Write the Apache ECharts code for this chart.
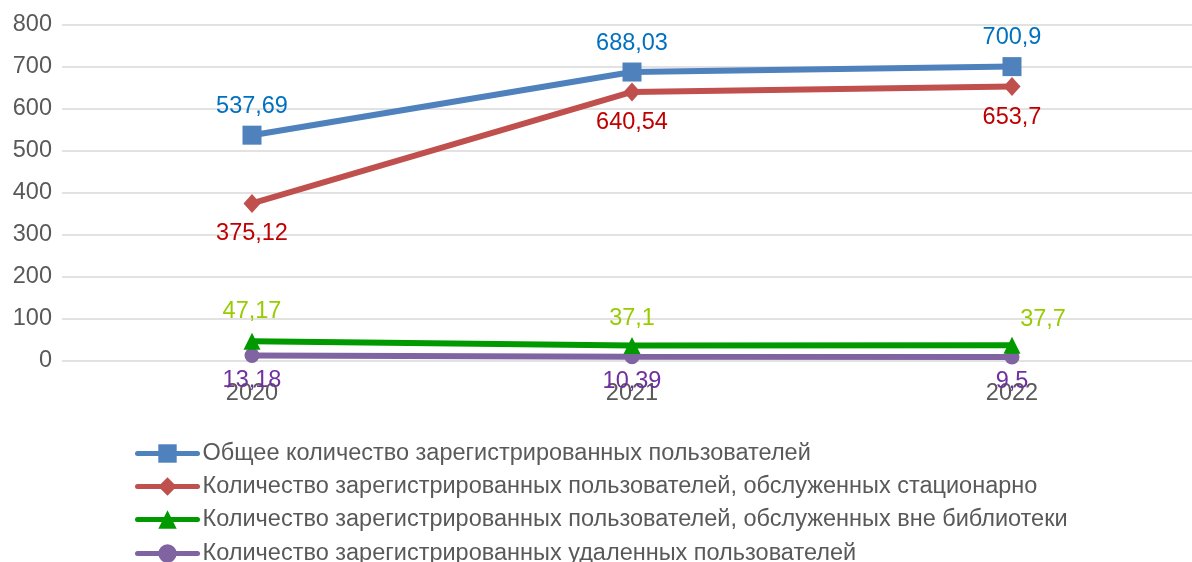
<!DOCTYPE html>
<html><head><meta charset="utf-8">
<script src="https://cdn.jsdelivr.net/npm/echarts@6/dist/echarts.min.js"></script>
<style>html,body{margin:0;padding:0;background:#fff;overflow:hidden}#c{width:1202px;height:562px}</style>
</head><body><div id="c"></div>
<script>
const categories = ['2020', '2021', '2022'];
const seriesNames = [
  'Общее количество зарегистрированных пользователей',
  'Количество зарегистрированных пользователей, обслуженных стационарно',
  'Количество зарегистрированных пользователей, обслуженных вне библиотеки',
  'Количество зарегистрированных удаленных пользователей'
];
const totalUsers = [537.69, 688.03, 700.9];
const stationaryUsers = [375.12, 640.54, 653.7];
const outsideUsers = [47.17, 37.1, 37.7];
const remoteUsers = [13.18, 10.39, 9.5];
const valueLabels = [
  ['537,69', '688,03', '700,9'],
  ['375,12', '640,54', '653,7'],
  ['47,17', '37,1', '37,7'],
  ['13,18', '10,39', '9,5']
];
const yTicks = [0, 100, 200, 300, 400, 500, 600, 700, 800];

const FONT = 'Liberation Sans';
const FS = 23.5;
const lineColors = ['#4F81BD', '#C0504D', '#009A00', '#8064A2'];
const labelColors = ['#0070C0', '#C00000', '#99CC00', '#7030A0'];
const symbols = ['rect', 'diamond', 'triangle', 'circle'];
const symbolSizes = [19, [17, 19], [17, 17], 15];
const labelOffsets = [
  [[0, -29], [0, -29], [0, -29]],
  [[0, 30], [0, 31], [0, 31]],
  [[0, -30], [0, -27], [31, -26]],
  [[0, 25], [0, 25], [0, 25]]
];
const legendCenters = [453, 486, 519, 553];
const datasets = [totalUsers, stationaryUsers, outsideUsers, remoteUsers];

const series = datasets.map((vals, i) => ({
  name: seriesNames[i],
  type: 'line',
  data: vals.map((v, j) => ({
    value: v,
    label: { offset: labelOffsets[i][j], formatter: valueLabels[i][j] }
  })),
  symbol: symbols[i],
  symbolSize: symbolSizes[i],
  showAllSymbol: true,
  lineStyle: { color: lineColors[i], width: 6 },
  itemStyle: { color: lineColors[i] },
  label: {
    show: true, position: 'inside',
    color: labelColors[i], fontFamily: FONT, fontSize: FS
  },
  z: 10 - i
}));

const legends = seriesNames.map((n, i) => ({
  orient: 'horizontal', left: 135, top: legendCenters[i] - 11.5, padding: 0,
  itemWidth: 60, itemHeight: 23, itemGap: 0,
  textStyle: { color: '#595959', fontSize: FS, fontFamily: FONT },
  lineStyle: { width: 5, cap: 'round' },
  data: [n]
}));

const chart = echarts.init(document.getElementById('c'), null, { renderer: 'canvas' });
chart.setOption({
  animation: false,
  textStyle: { fontFamily: FONT },
  grid: { left: 62, right: 0, top: 25, bottom: 201, containLabel: false },
  xAxis: {
    type: 'category', data: categories, boundaryGap: true,
    axisLine: { show: false }, axisTick: { show: false },
    axisLabel: { color: '#595959', fontSize: FS, fontFamily: FONT, margin: 21 }
  },
  yAxis: {
    type: 'value', min: yTicks[0], max: yTicks[yTicks.length - 1], interval: 100,
    axisLine: { show: false }, axisTick: { show: false },
    axisLabel: { color: '#595959', fontSize: FS, fontFamily: FONT, margin: 10 },
    splitLine: { lineStyle: { color: '#D9D9D9', width: 1.5 } }
  },
  legend: legends,
  series: series
});
</script></body></html>
